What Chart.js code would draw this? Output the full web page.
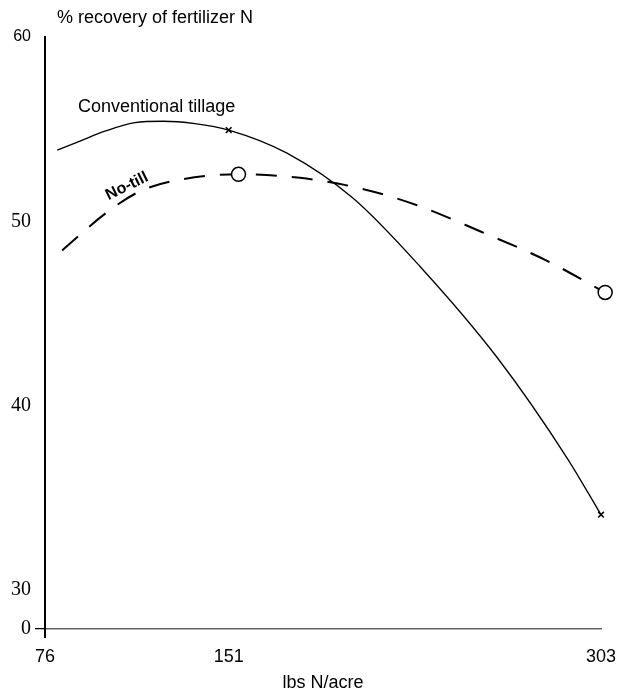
<!DOCTYPE html>
<html>
<head>
<meta charset="utf-8">
<script src="https://cdn.jsdelivr.net/npm/chart.js@4"></script>
<style>
  html, body { margin: 0; padding: 0; background: #fff; }
  #wrap { width: 629px; height: 697px; position: relative; }
</style>
</head>
<body>
<div id="wrap"><canvas id="recoveryChart"></canvas></div>
<script>
// values
var xTicks = [76, 151, 303];
var yTicks = [0, 30, 40, 50, 60];
var yBreak = 27.88; // where the "0" sits (broken axis)

var convX = [81, 90.3, 100.5, 112.7, 124.2, 137.2, 151, 174.8, 201.8, 229.1, 260.6, 289.1, 303];
var convY = [53.86, 54.35, 54.89, 55.35, 55.43, 55.3, 54.95, 53.7, 51.25, 47.55, 42.61, 37.17, 34.08];
var convMarks = [151, 303];

var noTillX = [83, 101.3, 114.8, 131.1, 155, 180.1, 204.6, 227.9, 253.6, 280.6, 304.7];
var noTillY = [48.42, 50.49, 51.63, 52.26, 52.55, 52.36, 51.79, 50.87, 49.46, 47.88, 46.14];
var noTillMarks = [155, 304.7];

var yTitle = '% recovery of fertilizer N';
var xTitle = 'lbs N/acre';
var convLabel = 'Conventional tillage';
var noTillLabel = 'No-till';

function toPoints(xs, ys) {
    var pts = [];
    for (var i = 0; i < xs.length; i++) {
        pts.push({ x: xs[i], y: ys[i] });
    }
    return pts;
}

var textPlugin = {
    id: 'texts',
    afterDraw: function (chart) {
        var ctx = chart.ctx;
        var sx = chart.scales.x, sy = chart.scales.y;
        ctx.save();
        ctx.fillStyle = '#000';
        ctx.textBaseline = 'middle';

        ctx.font = '18px "Liberation Sans"';
        ctx.textAlign = 'left';
        ctx.fillText(yTitle, 57, 18);

        ctx.font = '18px "Liberation Sans"';
        ctx.fillText(convLabel, sx.getPixelForValue(89.5), sy.getPixelForValue(56.2));

        ctx.save();
        ctx.translate(sx.getPixelForValue(109.5), sy.getPixelForValue(51.9));
        ctx.rotate(-26 * Math.PI / 180);
        ctx.font = 'bold 16px "Liberation Sans"';
        ctx.textAlign = 'center';
        ctx.fillText(noTillLabel, 0, 0);
        ctx.restore();

        // y axis runs a little below the x axis
        ctx.strokeStyle = '#000';
        ctx.lineWidth = 2;
        ctx.beginPath();
        ctx.moveTo(sx.left, sy.bottom);
        ctx.lineTo(sx.left, sy.bottom + 9);
        ctx.stroke();
        ctx.restore();
    }
};

var ctx = document.getElementById('recoveryChart').getContext('2d');

var recoveryChart = new Chart(ctx, {
    type: 'line',
    data: {
        datasets: [{
            label: convLabel,
            data: toPoints(convX, convY),
            borderColor: '#000',
            borderWidth: 1.3,
            cubicInterpolationMode: 'monotone',
            fill: false,
            clip: false,
            pointStyle: 'crossRot',
            pointRadius: convX.map(function (v) { return convMarks.indexOf(v) >= 0 ? 4 : 0; }),
            pointBorderColor: '#000',
            pointBorderWidth: 1.5
        },
        {
            label: noTillLabel,
            data: toPoints(noTillX, noTillY),
            borderColor: '#000',
            borderWidth: 2,
            borderDash: [21, 15],
            cubicInterpolationMode: 'monotone',
            fill: false,
            clip: false,
            pointStyle: 'circle',
            pointRadius: noTillX.map(function (v) { return noTillMarks.indexOf(v) >= 0 ? 7 : 0; }),
            pointBackgroundColor: '#fff',
            pointBorderColor: '#000',
            pointBorderWidth: 1.5
        }]
    },
    options: {
        responsive: true,
        maintainAspectRatio: false,
        animation: false,
        layout: {
            autoPadding: false,
            padding: { top: 37, right: 28, bottom: 0, left: 0 }
        },
        plugins: {
            legend: { display: false },
            tooltip: { enabled: false }
        },
        scales: {
            x: {
                type: 'linear',
                min: 76,
                max: 303,
                afterBuildTicks: function (scale) {
                    scale.ticks = xTicks.map(function (v) { return { value: v }; });
                },
                afterFit: function (scale) { scale.height = 68; },
                grid: { display: false, drawTicks: true, tickLength: 14 },
                border: { display: true, color: '#666', width: 1.5 },
                ticks: {
                    color: '#000',
                    padding: 3,
                    maxRotation: 0,
                    font: { family: 'Liberation Sans', size: 18 },
                    callback: function (v) { return v; }
                },
                title: {
                    display: true,
                    text: xTitle,
                    color: '#000',
                    font: { family: 'Liberation Sans', size: 18 },
                    padding: { top: 0, bottom: 3 }
                }
            },
            y: {
                type: 'linear',
                min: yBreak,
                max: 60,
                afterBuildTicks: function (scale) {
                    scale.ticks = yTicks.map(function (v) { return { value: v === 0 ? yBreak : v }; });
                },
                afterFit: function (scale) { scale.width = 45; },
                grid: {
                    display: true,
                    drawOnChartArea: false,
                    drawTicks: true,
                    tickLength: 10,
                    color: function (c) { return c.index === 0 ? '#000' : 'rgba(0,0,0,0)'; },
                    lineWidth: 1.3
                },
                border: { display: true, color: '#000', width: 2 },
                ticks: {
                    color: '#000',
                    padding: 4,
                    font: function (c) {
                        if (c.tick && c.tick.value === 60) {
                            return { family: 'Liberation Sans', size: 16 };
                        }
                        return { family: 'Liberation Serif', size: 20 };
                    },
                    callback: function (v) { return v === yBreak ? '0' : v; }
                }
            }
        }
    },
    plugins: [textPlugin]
});
</script>
</body>
</html>
